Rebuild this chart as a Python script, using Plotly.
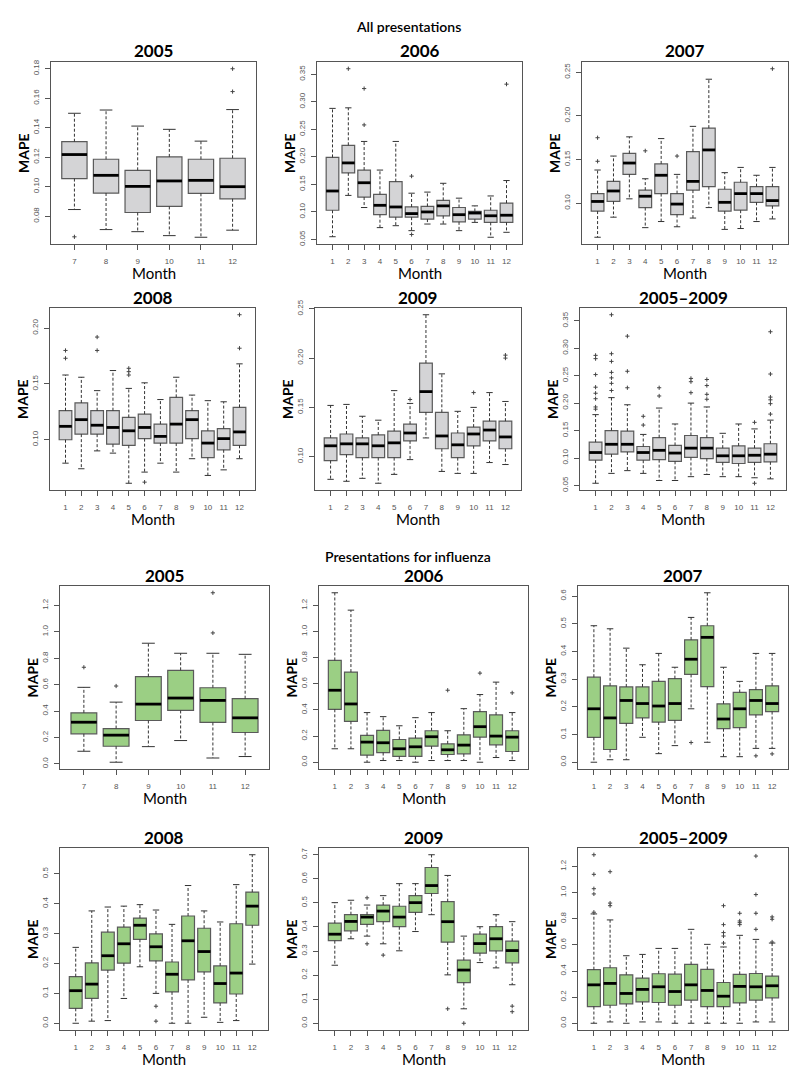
import plotly.graph_objects as go

months_half = [7, 8, 9, 10, 11, 12]
months_full = [1, 2, 3, 4, 5, 6, 7, 8, 9, 10, 11, 12]

# ---- All presentations ----
all05_lo = [0.0845, 0.0709, 0.0695, 0.0668, 0.0657, 0.0705]
all05_q1 = [0.1055, 0.0957, 0.0825, 0.0866, 0.0955, 0.0918]
all05_med = [0.1218, 0.1077, 0.1002, 0.1039, 0.1043, 0.1000]
all05_q3 = [0.1305, 0.1186, 0.1111, 0.1202, 0.1186, 0.1193]
all05_hi = [0.1498, 0.1520, 0.1411, 0.1389, 0.1309, 0.1523]
all05_out_m = [7, 12, 12]
all05_out_v = [0.066, 0.1645, 0.180]

all06_lo = [0.055, 0.130, 0.108, 0.0715, 0.075, 0.066, 0.078, 0.078, 0.066, 0.081, 0.054, 0.063]
all06_q1 = [0.103, 0.171, 0.127, 0.095, 0.0905, 0.0905, 0.087, 0.093, 0.082, 0.087, 0.081, 0.081]
all06_med = [0.138, 0.189, 0.153, 0.112, 0.109, 0.097, 0.100, 0.111, 0.095, 0.098, 0.093, 0.094]
all06_q3 = [0.199, 0.221, 0.176, 0.132, 0.155, 0.109, 0.110, 0.121, 0.108, 0.101, 0.103, 0.116]
all06_hi = [0.288, 0.289, 0.228, 0.176, 0.228, 0.134, 0.136, 0.152, 0.125, 0.111, 0.129, 0.157]
all06_out_m = [2, 3, 3, 6, 6, 12]
all06_out_v = [0.360, 0.324, 0.258, 0.165, 0.059, 0.332]

all07_lo = [0.061, 0.084, 0.105, 0.072, 0.079, 0.073, 0.083, 0.095, 0.070, 0.071, 0.079, 0.082]
all07_q1 = [0.091, 0.102, 0.133, 0.095, 0.111, 0.087, 0.115, 0.119, 0.091, 0.092, 0.101, 0.097]
all07_med = [0.102, 0.114, 0.146, 0.108, 0.132, 0.099, 0.125, 0.161, 0.101, 0.111, 0.111, 0.103]
all07_q3 = [0.111, 0.125, 0.157, 0.115, 0.145, 0.111, 0.159, 0.186, 0.116, 0.124, 0.119, 0.119]
all07_hi = [0.138, 0.154, 0.176, 0.128, 0.174, 0.133, 0.188, 0.242, 0.135, 0.141, 0.132, 0.141]
all07_out_m = [1, 1, 4, 6, 12]
all07_out_v = [0.175, 0.148, 0.160, 0.154, 0.254]

all08_lo = [0.079, 0.074, 0.090, 0.088, 0.061, 0.071, 0.079, 0.071, 0.083, 0.068, 0.073, 0.083]
all08_q1 = [0.100, 0.105, 0.105, 0.096, 0.095, 0.101, 0.097, 0.097, 0.101, 0.084, 0.091, 0.095]
all08_med = [0.112, 0.118, 0.113, 0.111, 0.108, 0.111, 0.103, 0.114, 0.118, 0.097, 0.101, 0.107]
all08_q3 = [0.126, 0.133, 0.126, 0.126, 0.120, 0.123, 0.114, 0.138, 0.126, 0.108, 0.110, 0.129]
all08_hi = [0.158, 0.156, 0.144, 0.162, 0.146, 0.151, 0.136, 0.156, 0.140, 0.135, 0.134, 0.168]
all08_out_m = [1, 1, 3, 3, 5, 5, 5, 6, 12, 12]
all08_out_v = [0.180, 0.173, 0.192, 0.180, 0.164, 0.161, 0.158, 0.062, 0.212, 0.182]

all09_lo = [0.077, 0.075, 0.078, 0.073, 0.082, 0.097, 0.119, 0.085, 0.083, 0.083, 0.094, 0.092]
all09_q1 = [0.096, 0.102, 0.099, 0.099, 0.099, 0.116, 0.145, 0.108, 0.099, 0.111, 0.116, 0.108]
all09_med = [0.111, 0.113, 0.113, 0.111, 0.114, 0.124, 0.166, 0.121, 0.112, 0.123, 0.127, 0.120]
all09_q3 = [0.119, 0.123, 0.119, 0.122, 0.126, 0.133, 0.195, 0.145, 0.124, 0.130, 0.136, 0.136]
all09_hi = [0.152, 0.153, 0.141, 0.137, 0.167, 0.154, 0.244, 0.184, 0.146, 0.150, 0.165, 0.156]
all09_out_m = [6, 10, 12, 12]
all09_out_v = [0.158, 0.165, 0.203, 0.200]

allyy_lo = [0.054, 0.072, 0.077, 0.072, 0.059, 0.059, 0.066, 0.070, 0.066, 0.066, 0.064, 0.062]
allyy_q1 = [0.096, 0.107, 0.111, 0.096, 0.097, 0.094, 0.101, 0.099, 0.092, 0.090, 0.092, 0.093]
allyy_med = [0.110, 0.125, 0.125, 0.110, 0.114, 0.109, 0.118, 0.118, 0.104, 0.104, 0.105, 0.107]
allyy_q3 = [0.129, 0.150, 0.149, 0.121, 0.137, 0.123, 0.141, 0.137, 0.118, 0.122, 0.118, 0.126]
allyy_hi = [0.179, 0.210, 0.197, 0.143, 0.191, 0.162, 0.200, 0.193, 0.145, 0.162, 0.153, 0.169]
allyy_out_m = [1, 1, 1, 1, 1, 1, 1, 1,
               2, 2, 2, 2, 2, 2, 2,
               3, 3, 3, 4, 4, 5, 5, 7, 7, 7,
               8, 8, 8, 8, 11, 11,
               12, 12, 12, 12, 12, 12]
allyy_out_v = [0.287, 0.281, 0.252, 0.229, 0.218, 0.208, 0.193, 0.189,
               0.361, 0.290, 0.276, 0.256, 0.246, 0.236, 0.223,
               0.322, 0.258, 0.228, 0.176, 0.160, 0.228, 0.213, 0.245, 0.239, 0.219,
               0.243, 0.232, 0.216, 0.207, 0.165, 0.054,
               0.330, 0.253, 0.211, 0.206, 0.199, 0.180]

# ---- Presentations for influenza ----
flu05_lo = [0.096, 0.013, 0.131, 0.177, 0.045, 0.056]
flu05_q1 = [0.228, 0.134, 0.329, 0.405, 0.314, 0.238]
flu05_med = [0.316, 0.218, 0.453, 0.499, 0.481, 0.349]
flu05_q3 = [0.387, 0.268, 0.661, 0.709, 0.577, 0.494]
flu05_hi = [0.580, 0.468, 0.914, 0.838, 0.838, 0.830]
flu05_out_m = [7, 8, 11, 11]
flu05_out_v = [0.732, 0.590, 1.296, 0.992]

flu06_lo = [0.103, 0.103, 0.0, 0.013, 0.013, 0.0, 0.013, 0.013, 0.013, 0.0, 0.036, 0.013]
flu06_q1 = [0.405, 0.313, 0.054, 0.074, 0.044, 0.044, 0.123, 0.059, 0.064, 0.192, 0.133, 0.082]
flu06_med = [0.551, 0.446, 0.154, 0.149, 0.103, 0.118, 0.195, 0.095, 0.131, 0.272, 0.200, 0.192]
flu06_q3 = [0.779, 0.690, 0.205, 0.244, 0.174, 0.185, 0.241, 0.141, 0.210, 0.387, 0.362, 0.241]
flu06_hi = [1.297, 1.164, 0.380, 0.349, 0.279, 0.341, 0.380, 0.241, 0.410, 0.518, 0.613, 0.380]
flu06_out_m = [8, 10, 12]
flu06_out_v = [0.551, 0.682, 0.531]

flu07_lo = [0.0, 0.009, 0.009, 0.090, 0.031, 0.060, 0.193, 0.072, 0.020, 0.020, 0.050, 0.050]
flu07_q1 = [0.090, 0.046, 0.140, 0.160, 0.145, 0.151, 0.317, 0.273, 0.121, 0.125, 0.171, 0.183]
flu07_med = [0.193, 0.160, 0.223, 0.212, 0.203, 0.212, 0.372, 0.451, 0.156, 0.193, 0.223, 0.212]
flu07_q3 = [0.307, 0.276, 0.272, 0.272, 0.292, 0.302, 0.442, 0.493, 0.211, 0.252, 0.262, 0.276]
flu07_hi = [0.493, 0.482, 0.412, 0.352, 0.393, 0.343, 0.523, 0.612, 0.343, 0.292, 0.393, 0.393]
flu07_out_m = [7, 11, 12]
flu07_out_v = [0.071, 0.023, 0.030]

flu08_lo = [0.0, 0.007, 0.009, 0.083, 0.189, 0.100, 0.0, 0.0, 0.020, 0.003, 0.009, 0.198]
flu08_q1 = [0.050, 0.083, 0.178, 0.201, 0.281, 0.209, 0.105, 0.145, 0.172, 0.068, 0.098, 0.328]
flu08_med = [0.109, 0.131, 0.226, 0.266, 0.328, 0.256, 0.164, 0.276, 0.240, 0.133, 0.168, 0.392]
flu08_q3 = [0.156, 0.202, 0.305, 0.322, 0.352, 0.299, 0.205, 0.359, 0.318, 0.192, 0.333, 0.439]
flu08_hi = [0.254, 0.376, 0.389, 0.392, 0.397, 0.379, 0.331, 0.461, 0.376, 0.339, 0.464, 0.564]
flu08_out_m = [6, 6]
flu08_out_v = [0.057, 0.007]

flu09_lo = [0.241, 0.351, 0.362, 0.330, 0.301, 0.381, 0.451, 0.201, 0.060, 0.252, 0.230, 0.160]
flu09_q1 = [0.343, 0.384, 0.411, 0.422, 0.401, 0.461, 0.539, 0.337, 0.169, 0.291, 0.301, 0.251]
flu09_med = [0.370, 0.423, 0.441, 0.466, 0.441, 0.501, 0.572, 0.422, 0.221, 0.331, 0.351, 0.302]
flu09_q3 = [0.416, 0.451, 0.451, 0.491, 0.486, 0.530, 0.647, 0.505, 0.262, 0.370, 0.401, 0.341]
flu09_hi = [0.501, 0.511, 0.491, 0.530, 0.580, 0.580, 0.700, 0.614, 0.362, 0.401, 0.451, 0.422]
flu09_out_m = [3, 3, 4, 8, 9, 12, 12]
flu09_out_v = [0.521, 0.330, 0.283, 0.060, 0.0, 0.071, 0.048]

fluyy_lo = [0.0, 0.010, 0.0, 0.010, 0.010, 0.0, 0.0, 0.0, 0.0, 0.0, 0.010, 0.010]
fluyy_q1 = [0.128, 0.138, 0.149, 0.164, 0.159, 0.138, 0.177, 0.128, 0.128, 0.156, 0.177, 0.195]
fluyy_med = [0.294, 0.305, 0.228, 0.259, 0.279, 0.243, 0.294, 0.251, 0.207, 0.282, 0.279, 0.287]
fluyy_q3 = [0.410, 0.425, 0.371, 0.346, 0.379, 0.376, 0.450, 0.412, 0.312, 0.374, 0.381, 0.361]
fluyy_hi = [0.837, 0.791, 0.517, 0.527, 0.573, 0.573, 0.719, 0.604, 0.584, 0.673, 0.642, 0.614]
fluyy_out_m = [1, 1, 1, 1, 1, 2, 2, 2,
               9, 9, 9, 9, 9, 10, 10, 10, 10,
               11, 11, 11, 11, 12, 12, 12]
fluyy_out_v = [1.29, 1.14, 1.03, 0.99, 0.85, 1.16, 0.92, 0.90,
               0.90, 0.755, 0.694, 0.668, 0.614, 0.842, 0.783, 0.770, 0.755,
               1.28, 0.985, 0.842, 0.719, 0.814, 0.796, 0.622]

ticks_all_a = [0.08, 0.10, 0.12, 0.14, 0.16, 0.18]
ticks_all_b = [0.05, 0.10, 0.15, 0.20, 0.25, 0.30, 0.35]
ticks_all_c = [0.10, 0.15, 0.20, 0.25]
ticks_flu_a = [0.0, 0.2, 0.4, 0.6, 0.8, 1.0, 1.2]
ticks_flu_b = [0.0, 0.1, 0.2, 0.3, 0.4, 0.5, 0.6, 0.7]

GRAY = "#d4d4d6"
GREEN = "#9bcf84"

# (title, months, lo, q1, med, q3, hi, out_m, out_v, fill, yticks, fmt, x0, x1, y0, y1) in pixels
panels = [
    ("2005", months_half, all05_lo, all05_q1, all05_med, all05_q3, all05_hi, all05_out_m, all05_out_v, GRAY, ticks_all_a, "{:.2f}", 43, 248, 54, 236),
    ("2006", months_full, all06_lo, all06_q1, all06_med, all06_q3, all06_hi, all06_out_m, all06_out_v, GRAY, ticks_all_b, "{:.2f}", 309, 514, 54, 236),
    ("2007", months_full, all07_lo, all07_q1, all07_med, all07_q3, all07_hi, all07_out_m, all07_out_v, GRAY, ticks_all_c, "{:.2f}", 574, 780, 54, 236),
    ("2008", months_full, all08_lo, all08_q1, all08_med, all08_q3, all08_hi, all08_out_m, all08_out_v, GRAY, ticks_all_c, "{:.2f}", 42, 247, 300, 482),
    ("2009", months_full, all09_lo, all09_q1, all09_med, all09_q3, all09_hi, all09_out_m, all09_out_v, GRAY, ticks_all_c, "{:.2f}", 307, 513, 300, 482),
    ("2005\u20132009", months_full, allyy_lo, allyy_q1, allyy_med, allyy_q3, allyy_hi, allyy_out_m, allyy_out_v, GRAY, ticks_all_b, "{:.2f}", 572, 778, 300, 482),
    ("2005", months_half, flu05_lo, flu05_q1, flu05_med, flu05_q3, flu05_hi, flu05_out_m, flu05_out_v, GREEN, ticks_flu_a, "{:.1f}", 52, 261, 578, 761),
    ("2006", months_full, flu06_lo, flu06_q1, flu06_med, flu06_q3, flu06_hi, flu06_out_m, flu06_out_v, GREEN, ticks_flu_a, "{:.1f}", 311, 520, 578, 761),
    ("2007", months_full, flu07_lo, flu07_q1, flu07_med, flu07_q3, flu07_hi, flu07_out_m, flu07_out_v, GREEN, ticks_flu_b, "{:.1f}", 570, 780, 578, 761),
    ("2008", months_full, flu08_lo, flu08_q1, flu08_med, flu08_q3, flu08_hi, flu08_out_m, flu08_out_v, GREEN, ticks_flu_b, "{:.1f}", 52, 260, 840, 1022),
    ("2009", months_full, flu09_lo, flu09_q1, flu09_med, flu09_q3, flu09_hi, flu09_out_m, flu09_out_v, GREEN, ticks_flu_b, "{:.1f}", 311, 520, 840, 1022),
    ("2005\u20132009", months_full, fluyy_lo, fluyy_q1, fluyy_med, fluyy_q3, fluyy_hi, fluyy_out_m, fluyy_out_v, GREEN, ticks_flu_a, "{:.1f}", 570, 780, 840, 1022),
]

W, H = 800, 1069
TEXT_FONT = "Lato, Open Sans, sans-serif"
TICK_FONT = dict(family="Liberation Sans, Arial, sans-serif", size=8, color="#555")

fig = go.Figure()
layout = {}
annotations = []


def label(text, xpx, ypx, size, angle=0, weight=None):
    f = dict(family=TEXT_FONT, size=size, color="black")
    if weight:
        f["weight"] = weight
    return dict(text=text, x=xpx / W, y=1 - ypx / H, xref="paper", yref="paper",
                xanchor="center", yanchor="middle", showarrow=False,
                textangle=angle, font=f)


for i, (title, months, lo, q1, med, q3, hi, om, ov, fill, yt, fmt, px0, px1, py0, py1) in enumerate(panels, start=1):
    xa = "x" if i == 1 else f"x{i}"
    ya = "y" if i == 1 else f"y{i}"

    # whiskers (dashed), staples and medians
    wx, wy, sx, sy, mx, my = [], [], [], [], [], []
    for m, a, b, c, d, e in zip(months, lo, q1, med, q3, hi):
        wx += [m, m, None, m, m, None]
        wy += [d, e, None, b, a, None]
        sx += [m - 0.2, m + 0.2, None, m - 0.2, m + 0.2, None]
        sy += [e, e, None, a, a, None]
        mx += [m - 0.4, m + 0.4, None]
        my += [c, c, None]

    fig.add_trace(go.Scatter(x=wx, y=wy, mode="lines", xaxis=xa, yaxis=ya,
                             line=dict(color="#333", width=1, dash="3px,2px"),
                             hoverinfo="skip", showlegend=False))
    fig.add_trace(go.Scatter(x=sx, y=sy, mode="lines", xaxis=xa, yaxis=ya,
                             line=dict(color="#333", width=1),
                             hoverinfo="skip", showlegend=False))
    fig.add_trace(go.Box(x=months, q1=q1, median=med, q3=q3, lowerfence=q1, upperfence=q3,
                         width=0.8, fillcolor=fill, line=dict(color="#5a5a5a", width=1.2),
                         whiskerwidth=0, boxpoints=False, xaxis=xa, yaxis=ya, showlegend=False))
    fig.add_trace(go.Scatter(x=mx, y=my, mode="lines", xaxis=xa, yaxis=ya,
                             line=dict(color="black", width=2.8),
                             hoverinfo="skip", showlegend=False))
    fig.add_trace(go.Scatter(x=om, y=ov, mode="markers", xaxis=xa, yaxis=ya,
                             marker=dict(symbol="cross-thin", size=3,
                                         line=dict(color="#444", width=1)),
                             hoverinfo="skip", showlegend=False))

    vals = lo + hi + ov
    vmin, vmax = min(vals), max(vals)
    pad = 0.04 * (vmax - vmin)
    n = len(months)
    xpad = 0.04 * n

    axis_common = dict(showline=True, mirror=True, linecolor="#555", linewidth=1,
                       ticks="outside", ticklen=5, tickcolor="#555", tickfont=TICK_FONT,
                       showgrid=False, zeroline=False, automargin=False)
    layout["xaxis" if i == 1 else f"xaxis{i}"] = dict(
        domain=[px0 / W, px1 / W], anchor=ya,
        range=[months[0] - 0.5 - xpad, months[-1] + 0.5 + xpad],
        tickvals=months, ticktext=[str(m) for m in months],
        ticklabelstandoff=4, **axis_common)
    layout["yaxis" if i == 1 else f"yaxis{i}"] = dict(
        domain=[1 - py1 / H, 1 - py0 / H], anchor=xa,
        range=[vmin - pad, vmax + pad],
        tickvals=yt, ticktext=[fmt.format(v) for v in yt], tickangle=-90,
        ticklabelstandoff=3, **axis_common)

    cx = (px0 + px1) / 2
    annotations.append(label(f"<b>{title}</b>", cx, py0 - 11, 17))
    annotations.append(label("Month", cx, py1 + 29, 15))
    annotations.append(label("<b>MAPE</b>", px0 - 28, (py0 + py1) / 2, 14, angle=-90))

annotations.append(label("All presentations", 400, 18, 14, weight=600))
annotations.append(label("Presentations for influenza", 400, 548, 14, weight=600))

fig.update_layout(width=W, height=H, margin=dict(l=0, r=0, t=0, b=0, autoexpand=False),
                  plot_bgcolor="white", paper_bgcolor="white",
                  annotations=annotations, showlegend=False, **layout)

fig.write_html("out.html")
